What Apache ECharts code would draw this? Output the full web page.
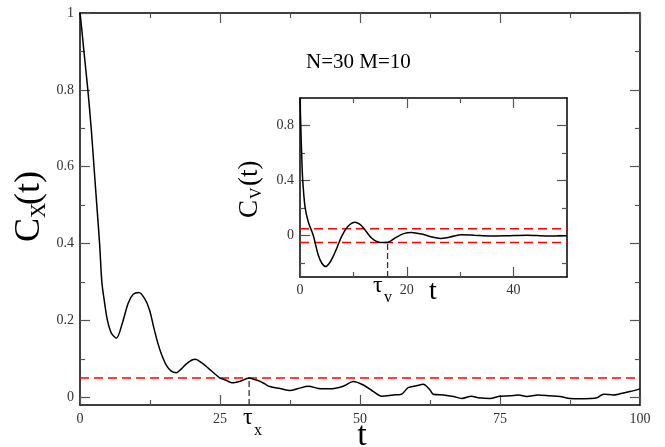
<!DOCTYPE html>
<html>
<head>
<meta charset="utf-8">
<script src="https://cdn.jsdelivr.net/npm/echarts@6/dist/echarts.min.js"></script>
<style>
  html, body { margin: 0; padding: 0; background: #fff; }
  #chart { width: 665px; height: 447px; }
</style>
</head>
<body>
<div id="chart"></div>
<script>
// C_X(t), main panel
const tX = [0, 0.3, 0.7, 1.4, 2.0, 2.5, 3.0, 3.5, 3.9, 4.4, 4.9, 5.6, 6.5, 7.5, 8.6, 9.5, 10.5, 11.5, 12.4, 13.2, 13.9, 14.6, 15.4, 16.3, 17.2, 18.1, 19.0, 20.0, 20.6, 21.7, 22.9, 24.0, 25.0, 26.0, 27.1, 28.6, 30.2, 31.0, 32.1, 33.0, 33.9, 35.7, 37.5, 39.0, 40.8, 42.6, 44.6, 47.0, 48.8, 50.6, 52.4, 53.9, 55.9, 57.4, 58.6, 60.1, 61.3, 62.5, 63.1, 64.9, 66.7, 68.2, 69.9, 71.1, 73.2, 75.0, 76.8, 78.3, 79.8, 81.8, 83.9, 85.7, 87.5, 89.3, 91.1, 92.3, 93.5, 95.2, 96.4, 98.2, 100];
const cX = [1.0, 0.96, 0.9, 0.8, 0.7, 0.6, 0.5, 0.4, 0.3, 0.245, 0.2, 0.167, 0.154, 0.19, 0.245, 0.268, 0.273, 0.258, 0.228, 0.18, 0.141, 0.11, 0.084, 0.068, 0.064, 0.074, 0.087, 0.097, 0.099, 0.09, 0.076, 0.062, 0.05, 0.045, 0.038, 0.042, 0.05, 0.047, 0.042, 0.035, 0.028, 0.023, 0.018, 0.023, 0.029, 0.023, 0.022, 0.029, 0.041, 0.032, 0.015, 0.003, 0.006, 0.008, 0.025, 0.03, 0.034, 0.019, 0.008, 0.006, 0.002, -0.003, 0.003, -0.001, -0.003, 0.003, 0.004, 0.006, 0.002, 0.006, 0.004, 0.002, -0.003, -0.004, -0.003, -0.001, 0.008, 0.006, 0.009, 0.015, 0.022];

// C_V(t), inset
const tV = [0, 0.15, 0.3, 0.5, 0.94, 1.56, 2.5, 3.4, 4.1, 4.8, 5.5, 6.2, 7.0, 7.8, 9.0, 10.3, 11.1, 11.9, 13.4, 15.0, 16.2, 17.8, 19.4, 20.9, 22.8, 24.7, 26.3, 28.1, 30.3, 32.5, 35.6, 38.7, 42.5, 46.2, 50];
const cV = [1.0, 0.8, 0.6, 0.41, 0.21, 0.1, 0.0, -0.138, -0.2, -0.224, -0.2, -0.151, -0.08, -0.005, 0.068, 0.097, 0.085, 0.056, -0.017, -0.049, -0.05, -0.017, 0.015, 0.024, 0.012, -0.01, -0.02, -0.01, 0.007, 0.004, -0.002, 0.0, 0.004, -0.002, 0.0];

// thresholds and decorrelation times
const epsX = 0.05;
const epsV = 0.05;
const tauX = 30.2;
const tauV = 16.4;

// ticks
const mainXRange = [0, 100];
const mainYRange = [-0.02, 1];
const mainYMajor = [0, 0.2, 0.4, 0.6, 0.8, 1];
const mainYMinor = [0.1, 0.3, 0.5, 0.7, 0.9];
const insetXRange = [0, 50];
const insetXMajor = [0, 20, 40];
const insetXMinor = [10, 30];
const insetYRange = [-0.3, 1];
const insetYMajor = [0, 0.4, 0.8];
const insetYMinor = [-0.2, 0.2, 0.6];

const FONT = 'Liberation Serif';
const tickColor = '#555';

function zip(a, b) {
    return a.map(function (v, i) { return [v, b[i]]; });
}

function mkAxis(grid, pos, range, major, minor, labels, isMinor) {
    let vals = isMinor ? minor : major;
    return {
        type: 'value',
        gridIndex: grid,
        position: pos,
        min: range[0],
        max: range[1],
        axisLine: {show: !isMinor, onZero: false, lineStyle: {color: '#000', width: 1.5}},
        axisTick: {show: true, inside: true, length: isMinor ? 5 : 10, customValues: vals,
            lineStyle: {color: tickColor, width: 1.2}},
        axisLabel: {show: labels && !isMinor, customValues: vals, margin: 6,
            fontFamily: FONT, fontSize: 14, color: '#333',
            formatter: function (v) { return String(Math.round(v * 100) / 100); }},
        splitLine: {show: false}
    };
}

let myChart = echarts.init(document.getElementById('chart'), null, {renderer: 'canvas'});

let option = {
    animation: false,
    backgroundColor: '#fff',
    grid: [
        {left: 80, top: 13, width: 560, height: 392, containLabel: false},
        {left: 300, top: 98, width: 267, height: 179, show: true, backgroundColor: '#fff', borderWidth: 0}
    ],
    xAxis: [
        // main x: regular interval, minor ticks via minorTick
        {
            type: 'value', gridIndex: 0, position: 'bottom', min: 0, max: 100, interval: 25,
            axisLine: {onZero: false, lineStyle: {color: '#000', width: 1.5}},
            axisTick: {inside: true, length: 10, lineStyle: {color: tickColor, width: 1.2}},
            minorTick: {show: true, splitNumber: 2, length: 5, lineStyle: {color: tickColor, width: 1.2}},
            axisLabel: {fontFamily: FONT, fontSize: 14, color: '#333', margin: 7},
            splitLine: {show: false}
        },
        {
            type: 'value', gridIndex: 0, position: 'top', min: 0, max: 100, interval: 25,
            axisLine: {onZero: false, lineStyle: {color: '#000', width: 1.5}},
            axisTick: {inside: true, length: 10, lineStyle: {color: tickColor, width: 1.2}},
            minorTick: {show: true, splitNumber: 2, length: 5, lineStyle: {color: tickColor, width: 1.2}},
            axisLabel: {show: false},
            splitLine: {show: false}
        },
        mkAxis(1, 'bottom', insetXRange, insetXMajor, insetXMinor, true, false),
        mkAxis(1, 'bottom', insetXRange, insetXMajor, insetXMinor, false, true),
        mkAxis(1, 'top', insetXRange, insetXMajor, insetXMinor, false, false),
        mkAxis(1, 'top', insetXRange, insetXMajor, insetXMinor, false, true)
    ],
    yAxis: [
        mkAxis(0, 'left', mainYRange, mainYMajor, mainYMinor, true, false),
        mkAxis(0, 'left', mainYRange, mainYMajor, mainYMinor, false, true),
        mkAxis(0, 'right', mainYRange, mainYMajor, mainYMinor, false, false),
        mkAxis(0, 'right', mainYRange, mainYMajor, mainYMinor, false, true),
        mkAxis(1, 'left', insetYRange, insetYMajor, insetYMinor, true, false),
        mkAxis(1, 'left', insetYRange, insetYMajor, insetYMinor, false, true),
        mkAxis(1, 'right', insetYRange, insetYMajor, insetYMinor, false, false),
        mkAxis(1, 'right', insetYRange, insetYMajor, insetYMinor, false, true)
    ],
    series: [
        {
            // main threshold
            type: 'line', xAxisIndex: 0, yAxisIndex: 0, showSymbol: false, silent: true,
            data: [[mainXRange[0], epsX], [mainXRange[1], epsX]],
            lineStyle: {color: '#ff0000', width: 1.5, type: [9, 5]}
        },
        {
            type: 'line', xAxisIndex: 0, yAxisIndex: 0, showSymbol: false, silent: true,
            data: [[tauX, mainYRange[0]], [tauX, epsX]],
            lineStyle: {color: '#333', width: 1.3, type: [6, 3]}
        },
        {
            type: 'line', xAxisIndex: 0, yAxisIndex: 0, showSymbol: false, smooth: 0.3,
            data: zip(tX, cX),
            lineStyle: {color: '#000', width: 1.5}
        },
        {
            // inset thresholds +/- eps
            type: 'line', xAxisIndex: 2, yAxisIndex: 4, showSymbol: false, silent: true,
            data: [[insetXRange[0], epsV], [insetXRange[1], epsV]],
            lineStyle: {color: '#ff0000', width: 1.5, type: [9, 5]}
        },
        {
            type: 'line', xAxisIndex: 2, yAxisIndex: 4, showSymbol: false, silent: true,
            data: [[insetXRange[0], -epsV], [insetXRange[1], -epsV]],
            lineStyle: {color: '#ff0000', width: 1.5, type: [9, 5]}
        },
        {
            type: 'line', xAxisIndex: 2, yAxisIndex: 4, showSymbol: false, silent: true,
            data: [[tauV, insetYRange[0]], [tauV, -epsV]],
            lineStyle: {color: '#333', width: 1.3, type: [6, 3]}
        },
        {
            type: 'line', xAxisIndex: 2, yAxisIndex: 4, showSymbol: false, smooth: 0.3,
            data: zip(tV, cV),
            lineStyle: {color: '#000', width: 1.5}
        }
    ],
    graphic: [
        {
            type: 'text', x: 306, y: 62,
            style: {text: 'N=30 M=10', font: '21px "Liberation Serif"', fill: '#000', verticalAlign: 'middle'}
        },
        // main y title C_X(t)
        {
            type: 'group', x: 30, y: 207, rotation: Math.PI / 2,
            children: [
                {type: 'text', x: -35, y: 0, style: {text: 'C', font: '36px "Liberation Serif"', fill: '#000', verticalAlign: 'middle'}},
                {type: 'text', x: -11, y: 9, style: {text: 'X', font: '21px "Liberation Serif"', fill: '#000', verticalAlign: 'middle'}},
                {type: 'text', x: 2, y: 0, style: {text: '(t)', font: '36px "Liberation Serif"', fill: '#000', verticalAlign: 'middle'}}
            ]
        },
        // main x title
        {
            type: 'text', x: 362, y: 436,
            style: {text: 't', font: '34px "Liberation Serif"', fill: '#000', align: 'center', verticalAlign: 'middle'}
        },
        // tau_x
        {
            type: 'group', x: 243, y: 418,
            children: [
                {type: 'text', x: 0, y: 0, style: {text: 'τ', font: '24px "Liberation Serif"', fill: '#000', verticalAlign: 'middle'}},
                {type: 'text', x: 11, y: 13, style: {text: 'x', font: '16px "Liberation Serif"', fill: '#000', verticalAlign: 'middle'}}
            ]
        },
        // inset y title C_V(t)
        {
            type: 'group', x: 250, y: 189, rotation: Math.PI / 2,
            children: [
                {type: 'text', x: -29, y: 0, style: {text: 'C', font: '27px "Liberation Serif"', fill: '#000', verticalAlign: 'middle'}},
                {type: 'text', x: -10, y: 7, style: {text: 'V', font: '16px "Liberation Serif"', fill: '#000', verticalAlign: 'middle'}},
                {type: 'text', x: 3, y: 0, style: {text: '(t)', font: '27px "Liberation Serif"', fill: '#000', verticalAlign: 'middle'}}
            ]
        },
        // inset x title
        {
            type: 'text', x: 433, y: 292,
            style: {text: 't', font: '28px "Liberation Serif"', fill: '#000', align: 'center', verticalAlign: 'middle'}
        },
        // tau_v
        {
            type: 'group', x: 373, y: 286,
            children: [
                {type: 'text', x: 0, y: 0, style: {text: 'τ', font: '24px "Liberation Serif"', fill: '#000', verticalAlign: 'middle'}},
                {type: 'text', x: 11, y: 12, style: {text: 'v', font: '16px "Liberation Serif"', fill: '#000', verticalAlign: 'middle'}}
            ]
        }
    ]
};

myChart.setOption(option);
</script>
</body>
</html>
